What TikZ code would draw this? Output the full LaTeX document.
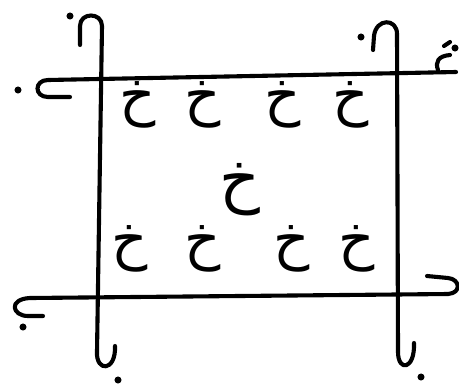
\documentclass[tikz,border=0pt]{standalone}
\usepackage{fontspec}
\newfontfamily\arabicfont[Script=Arabic]{DejaVu Sans}
\TeXXeTstate=1
\begin{document}
\begin{tikzpicture}[
    x=0.03cm, y=-0.03cm,
    stroke/.style={line width=3.5pt, line cap=round, line join=round},
    kha/.style={draw=none, font=\fontsize{48}{48}\selectfont\arabicfont, inner sep=0pt},
    spot/.style={fill, circle, inner sep=0pt, minimum size=6pt}
]
\useasboundingbox (0,0) rectangle (459,383);
% --- Vertical strokes with hooked ends ---
\draw[stroke] (80,45) -- (80,26) .. controls (80,12) and (102,12) .. (102,26)
    -- (97,352) .. controls (96,372) and (116,372) .. (115,346);
\draw[stroke] (373,50) -- (374,36) .. controls (376,18) and (397,18) .. (397,34)
    -- (398,352) .. controls (398,372) and (415,370) .. (414,343);
% --- Horizontal strokes with hooked ends ---
\draw[stroke] (70,97) -- (48,97) .. controls (34,97) and (34,80) .. (48,80) -- (456,72);
\draw[stroke] (438,70) .. controls (435,62) and (438,56) .. (450,55);
\draw[stroke] (444,46) -- (450,42);
\draw[stroke] (43,316) -- (28,316) .. controls (12,316) and (8,299) .. (30,298)
    -- (448,294) .. controls (462,293) and (460,279) .. (448,278) -- (427,276);
% --- Dots ---
\foreach \n/\x/\y in {a/70/16, b/18/90, c/361/37, d/455/48, e/23/327, f/118/380, g/421/377} {
    \node[spot] (dot\n) at (\x,\y) {};
}
% --- Letters: top row, centre, bottom row ---
\foreach \i/\x in {1/138, 2/203, 3/283, 4/351} {
    \node[kha] (top\i) at (\x,105) {\beginR خ\endR};
}
\node[kha, font=\fontsize{54}{54}\selectfont\arabicfont] (mid) at (240,190) {\beginR خ\endR};
\foreach \i/\x in {1/130, 2/203, 3/292, 4/357} {
    \node[kha] (bot\i) at (\x,249) {\beginR خ\endR};
}
\end{tikzpicture}
\end{document}
